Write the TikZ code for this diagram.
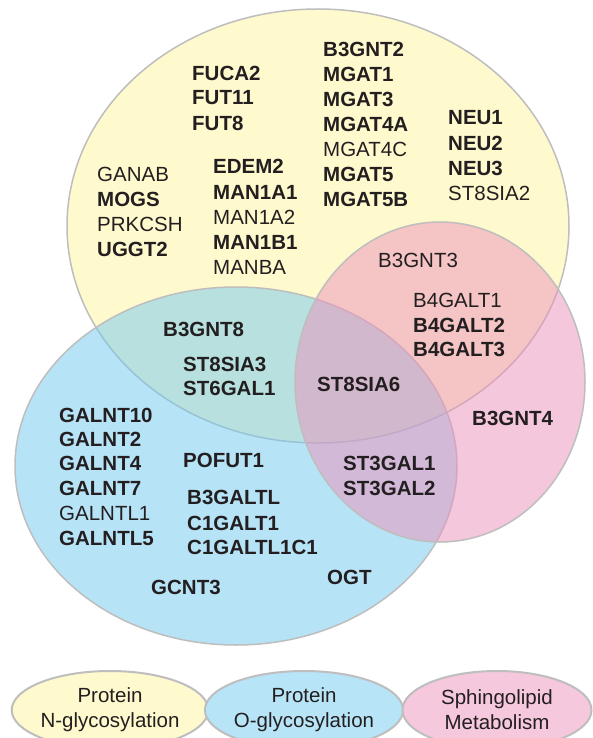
\documentclass[tikz,border=0pt]{standalone}
\usepackage{fontspec}
\setmainfont{Liberation Sans}
\usepackage{tikz}
\usetikzlibrary{shapes.geometric}
\definecolor{ncol}{RGB}{255,249,206}
\definecolor{ocol}{RGB}{113,201,241}
\definecolor{scol}{RGB}{237,145,187}
\definecolor{olegcol}{RGB}{184,228,248}
\definecolor{slegcol}{RGB}{246,200,221}
\definecolor{rim}{RGB}{190,190,190}
\definecolor{ink}{RGB}{35,31,32}

\begin{document}
\begin{tikzpicture}[x=1pt,y=-1pt]
\tikzstyle{every node}+=[inner sep=0pt, text=ink, font=\fontsize{20.5}{25}\selectfont]
\tikzstyle{gene}=[anchor=west, font=\fontsize{20.5}{25}\selectfont\bfseries]
\tikzstyle{genereg}=[anchor=west]
\tikzstyle{legend}=[ellipse, draw=rim, line width=2pt, minimum height=78, align=center]
\fill [white] (0,0) rectangle (593,738);
\useasboundingbox (0,0) rectangle (593,738);
% sets
\draw [rim, line width=1.5pt, fill=ncol] (318,226) ellipse [x radius=251pt, y radius=217pt];
\draw [rim, line width=1.5pt, fill=ocol, fill opacity=0.5] (236,466) ellipse [x radius=221pt, y radius=179pt];
\draw [rim, line width=1.5pt, fill=scol, fill opacity=0.5] (440,382) ellipse [x radius=145pt, y radius=160pt];
% N-glycosylation only
\node [gene] (fuca2) at (192,73) {FUCA2};
\node [gene] (fut11) at (192,98) {FUT11};
\node [gene] (fut8) at (192,123) {FUT8};
\node [gene] (b3gnt2) at (323,49) {B3GNT2};
\node [gene] (mgat1) at (323,74) {MGAT1};
\node [gene] (mgat3) at (323,99) {MGAT3};
\node [gene] (mgat4a) at (323,124) {MGAT4A};
\node [genereg] (mgat4c) at (323,149) {MGAT4C};
\node [gene] (mgat5) at (323,174) {MGAT5};
\node [gene] (mgat5b) at (323,199) {MGAT5B};
\node [gene] (neu1) at (448,118) {NEU1};
\node [gene] (neu2) at (448,143) {NEU2};
\node [gene] (neu3) at (448,168) {NEU3};
\node [genereg] (st8sia2) at (448,193) {ST8SIA2};
\node [genereg] (ganab) at (97,174) {GANAB};
\node [gene] (mogs) at (97,199) {MOGS};
\node [genereg] (prkcsh) at (97,224) {PRKCSH};
\node [gene] (uggt2) at (97,249) {UGGT2};
\node [gene] (edem2) at (213,166) {EDEM2};
\node [gene] (man1a1) at (213,192) {MAN1A1};
\node [genereg] (man1a2) at (213,217) {MAN1A2};
\node [gene] (man1b1) at (213,242) {MAN1B1};
\node [genereg] (manba) at (213,267) {MANBA};
% N-glycosylation and sphingolipid
\node [genereg] (b3gnt3) at (378,260) {B3GNT3};
\node [genereg] (b4galt1) at (413,300) {B4GALT1};
\node [gene] (b4galt2) at (413,325) {B4GALT2};
\node [gene] (b4galt3) at (413,349) {B4GALT3};
% N- and O-glycosylation
\node [gene] (b3gnt8) at (163,329) {B3GNT8};
\node [gene] (st8sia3) at (183,364) {ST8SIA3};
\node [gene] (st6gal1) at (183,388) {ST6GAL1};
% all three
\node [gene] (st8sia6) at (317,384) {ST8SIA6};
% sphingolipid only
\node [gene] (b3gnt4) at (472,418) {B3GNT4};
% O-glycosylation and sphingolipid
\node [gene] (st3gal1) at (343,463) {ST3GAL1};
\node [gene] (st3gal2) at (343,488) {ST3GAL2};
% O-glycosylation only
\node [gene] (galnt10) at (59,415) {GALNT10};
\node [gene] (galnt2) at (59,439) {GALNT2};
\node [gene] (galnt4) at (59,463) {GALNT4};
\node [gene] (galnt7) at (59,488) {GALNT7};
\node [genereg] (galntl1) at (59,513) {GALNTL1};
\node [gene] (galntl5) at (59,538) {GALNTL5};
\node [gene] (pofut1) at (183,460) {POFUT1};
\node [gene] (b3galtl) at (187,497) {B3GALTL};
\node [gene] (c1galt1) at (187,523) {C1GALT1};
\node [gene] (c1galtl1c1) at (187,547) {C1GALTL1C1};
\node [gene] (gcnt3) at (151,587) {GCNT3};
\node [gene] (ogt) at (327,577) {OGT};
% legend
\node [legend, fill=ncol, minimum width=190] (nleg) at (110,710) {Protein\\N-glycosylation};
\node [legend, fill=olegcol, minimum width=192] (oleg) at (304,710) {Protein\\O-glycosylation};
\node [legend, fill=slegcol, minimum width=189] (sleg) at (497,710) {Sphingolipid\\Metabolism};
\end{tikzpicture}
\end{document}
